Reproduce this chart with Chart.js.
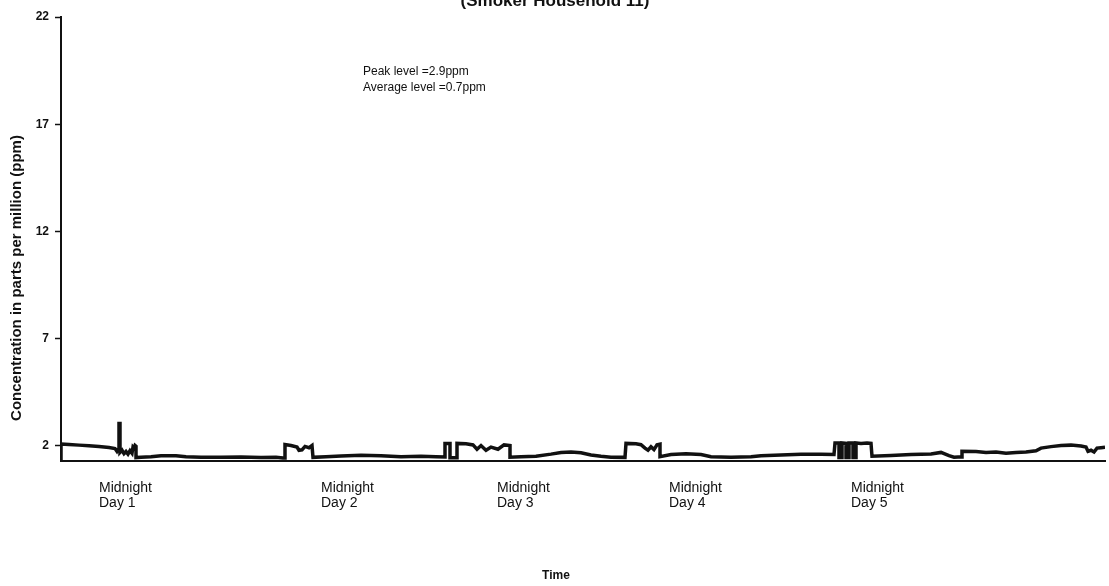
<!DOCTYPE html>
<html>
<head>
<meta charset="utf-8">
<script src="https://cdn.jsdelivr.net/npm/chart.js@4/dist/chart.umd.min.js"></script>
<style>
  html, body { margin: 0; padding: 0; background: #fff; }
  #wrap { width: 1109px; height: 586px; }
</style>
</head>
<body>
<div id="wrap"><canvas id="coChart" width="1109" height="586"></canvas></div>
<script>
// sample index along the logging period
const timeIdx = [
    0, 0, 8, 18, 28, 38, 48, 54, 56, 57, 58, 58, 59, 59, 61, 63, 65, 67, 69, 71, 72, 73, 74, 75, 75,
    80, 90, 100, 115, 125, 140, 160, 180, 200, 215, 222, 224, 224, 230, 236, 238, 241, 244, 248, 251, 252,
    265, 280, 300, 320, 340, 360, 375, 384, 384, 389, 389, 396, 396, 405, 412, 416, 420, 425, 430, 437, 443, 449, 449,
    460, 475, 490, 500, 510, 520, 530, 540, 550, 564, 565, 575, 580, 584, 587, 590, 593, 596, 599, 599,
    610, 625, 640, 650, 670, 690, 700, 720, 740, 760, 773, 774, 778, 778, 781, 781, 785, 785, 788, 788, 792, 792, 795, 795, 800, 806, 810, 811,
    830, 850, 870, 880, 888, 893, 897, 901, 901, 915, 925, 935, 945, 955, 965, 975, 980, 990, 1000, 1010, 1020, 1025, 1027, 1030, 1033, 1036, 1040, 1044
];
// CO concentration, ppm (as plotted)
const ppm = [
    1.30, 2.09, 2.07, 2.04, 2.01, 1.98, 1.93, 1.88, 1.75, 1.82, 1.80, 3.05, 3.05, 1.70, 1.80, 1.64, 1.74, 1.62, 1.78, 1.66, 1.95, 1.90, 2.02, 1.98, 1.46,
    1.48, 1.50, 1.55, 1.55, 1.50, 1.48, 1.47, 1.49, 1.46, 1.48, 1.44, 1.44, 2.07, 2.02, 1.95, 1.80, 1.82, 1.98, 1.92, 2.02, 1.47,
    1.50, 1.53, 1.57, 1.55, 1.50, 1.52, 1.50, 1.49, 2.12, 2.12, 1.45, 1.45, 2.12, 2.10, 2.05, 1.85, 2.02, 1.80, 1.95, 1.85, 2.05, 2.02, 1.48,
    1.50, 1.52, 1.62, 1.70, 1.72, 1.68, 1.58, 1.52, 1.48, 1.47, 2.12, 2.10, 2.06, 1.90, 1.80, 1.96, 1.83, 2.05, 2.08, 1.50,
    1.60, 1.64, 1.60, 1.50, 1.48, 1.50, 1.55, 1.58, 1.62, 1.62, 1.60, 2.14, 2.14, 1.46, 1.46, 2.14, 2.12, 1.46, 1.46, 2.14, 2.14, 1.46, 1.46, 2.14, 2.12, 2.14, 2.12, 1.52,
    1.56, 1.60, 1.63, 1.70, 1.55, 1.48, 1.49, 1.49, 1.75, 1.74, 1.70, 1.72, 1.66, 1.70, 1.72, 1.78, 1.90, 1.97, 2.02, 2.04, 2.00, 1.95, 1.75, 1.80, 1.72, 1.90, 1.92, 1.94
];
const midnightIdx = [38, 260, 436, 608, 790];
const midnightLabels = ['Day 1', 'Day 2', 'Day 3', 'Day 4', 'Day 5'];
const yTicks = [2, 7, 12, 17, 22];

const FONT = 'Liberation Sans, Arial, sans-serif';

const textPlugin = {
    id: 'extraText',
    afterDraw(chart) {
        const ctx = chart.ctx;
        ctx.save();
        ctx.fillStyle = '#111';
        ctx.textBaseline = 'alphabetic';
        ctx.textAlign = 'center';
        ctx.font = 'bold 17px ' + FONT;
        ctx.fillText('(Smoker Household 11)', 555, 6);

        ctx.font = 'bold 12px ' + FONT;
        ctx.textBaseline = 'middle';
        ctx.fillText('Time', 556, 576);

        ctx.save();
        ctx.translate(17, 278);
        ctx.rotate(-Math.PI / 2);
        ctx.font = 'bold 15px ' + FONT;
        ctx.fillText('Concentration in parts per million (ppm)', 0, 0);
        ctx.restore();

        ctx.textAlign = 'left';
        ctx.font = '12px ' + FONT;
        ctx.fillText('Peak level =2.9ppm', 363, 72);
        ctx.fillText('Average level =0.7ppm', 363, 88);
        ctx.restore();
    }
};

const ctx = document.getElementById('coChart').getContext('2d');
new Chart(ctx, {
    type: 'line',
    data: {
        datasets: [{
            data: timeIdx.map((t, i) => ({ x: t, y: ppm[i] })),
            borderColor: '#111',
            borderWidth: 3.5,
            pointRadius: 0,
            tension: 0,
            fill: false
        }]
    },
    options: {
        responsive: false,
        animation: false,
        layout: { padding: { top: 17, right: 4, left: 0, bottom: 0 } },
        plugins: {
            legend: { display: false },
            tooltip: { enabled: false }
        },
        scales: {
            x: {
                type: 'linear',
                min: 0,
                max: 1044,
                afterBuildTicks: function(scale) {
                    scale.ticks = midnightIdx.map(v => ({ value: v }));
                },
                afterFit: function(scale) { scale.height = 125; },
                ticks: {
                    align: 'start',
                    padding: 19,
                    color: '#111',
                    font: { family: FONT, size: 14, lineHeight: 1.1 },
                    maxRotation: 0,
                    autoSkip: false,
                    callback: function(value) {
                        const i = midnightIdx.indexOf(value);
                        return i >= 0 ? ['Midnight', midnightLabels[i]] : '';
                    }
                },
                grid: { display: true, drawOnChartArea: false, drawTicks: false },
                border: { display: true, color: '#111', width: 2 }
            },
            y: {
                min: 1.3,
                max: 22,
                afterBuildTicks: function(scale) {
                    scale.ticks = yTicks.map(v => ({ value: v }));
                },
                afterFit: function(scale) { scale.width = 61; },
                ticks: {
                    padding: 6,
                    color: '#111',
                    font: { family: FONT, size: 12, weight: 'bold' }
                },
                grid: { display: true, drawOnChartArea: false, drawTicks: true, tickLength: 6, color: '#111', tickWidth: 1.5 },
                border: { display: true, color: '#111', width: 2 }
            }
        }
    },
    plugins: [textPlugin]
});
</script>
</body>
</html>
